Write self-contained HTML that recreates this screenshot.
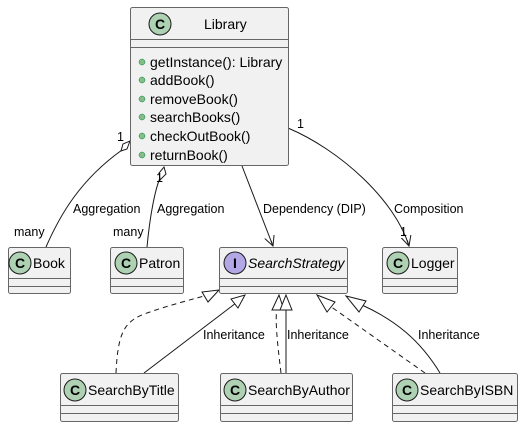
<!DOCTYPE html>
<html><head><meta charset="utf-8"><style>
html,body{margin:0;padding:0;background:#fff;}
svg{display:block;}
text{font-family:"Liberation Sans",sans-serif;fill:#000;}
</style></head><body>
<svg width="523" height="427" viewBox="0 0 523 427" xmlns="http://www.w3.org/2000/svg">
<defs>
<marker id="arr" markerWidth="12" markerHeight="12" refX="10" refY="6" orient="auto" markerUnits="userSpaceOnUse">
<path d="M0,1 L10,6 L0,11 M10,6 L4,6" fill="none" stroke="#181818" stroke-width="1"/>
</marker>
</defs>
<g stroke="#181818" stroke-width="1" fill="none">
<path d="M46,247 C60,215 80,180 122,150"/>
<polygon points="130,141 127,149 121,151 123,144" fill="#fff"/>
<path d="M147,247 C150,215 155,190 160,178"/>
<polygon points="164,167 166,174 160,180 159,173" fill="#fff"/>
<path d="M242,166 L273,246" marker-end="url(#arr)"/>
<path d="M288,128 C340,150 395,200 409,246" marker-end="url(#arr)"/>
<path d="M116,373 C118,330 125,320 150,312 C170,305 190,300 204,296" stroke-dasharray="5,4"/>
<polygon points="219,290 208,302 202,292" fill="#fff"/>
<path d="M144,373 L236,303"/>
<polygon points="245,295 238,308 231,299" fill="#fff"/>
<path d="M281,373 C277,340 275,320 277,308" stroke-dasharray="5,4"/>
<polygon points="279,295 284,310 272,310" fill="#fff"/>
<path d="M286,373 L286,310"/>
<polygon points="286,295 292,310 280,310" fill="#fff"/>
<path d="M425,373 L330,306" stroke-dasharray="5,4"/>
<polygon points="317,295 335,302 327,312" fill="#fff"/>
<path d="M440,373 C420,340 395,320 362,305"/>
<polygon points="346,296 366,301 359,312" fill="#fff"/>
</g>
<g font-size="12.5">
<text x="117" y="141">1</text>
<text x="14" y="236">many</text>
<text x="73" y="213">Aggregation</text>
<text x="156" y="182">1</text>
<text x="113" y="236">many</text>
<text x="157" y="213">Aggregation</text>
<text x="263" y="213">Dependency (DIP)</text>
<text x="297" y="128">1</text>
<text x="394" y="213">Composition</text>
<text x="400" y="236">1</text>
<text x="203" y="339">Inheritance</text>
<text x="287" y="339">Inheritance</text>
<text x="418" y="339">Inheritance</text>
</g>
<g stroke="#666" stroke-width="1" fill="#F1F1F1">
<rect x="130.5" y="7.5" width="158" height="158" rx="2"/>
<rect x="8.5" y="247.5" width="62" height="46" rx="2"/>
<rect x="110.5" y="247.5" width="73" height="46" rx="2"/>
<rect x="219.5" y="247.5" width="128" height="46" rx="2"/>
<rect x="382.5" y="247.5" width="75" height="46" rx="2"/>
<rect x="60.5" y="373.5" width="118" height="48" rx="2"/>
<rect x="220.5" y="373.5" width="132" height="48" rx="2"/>
<rect x="392.5" y="373.5" width="125" height="48" rx="2"/>
</g>
<g stroke="#666" stroke-width="1">
<path d="M130.5,39.5H288.5M130.5,47.5H288.5"/>
<path d="M8.5,278.5H70.5M8.5,286.5H70.5"/>
<path d="M110.5,278.5H183.5M110.5,286.5H183.5"/>
<path d="M219.5,278.5H347.5M219.5,286.5H347.5"/>
<path d="M382.5,278.5H457.5M382.5,286.5H457.5"/>
<path d="M60.5,405.5H178.5M60.5,413.5H178.5"/>
<path d="M220.5,405.5H352.5M220.5,413.5H352.5"/>
<path d="M392.5,405.5H517.5M392.5,413.5H517.5"/>
</g>
<g stroke="#181818" stroke-width="1" fill="#ADD1B2">
<circle cx="160" cy="24" r="11"/>
<circle cx="20" cy="263" r="11"/>
<circle cx="126" cy="263" r="11"/>
<circle cx="398" cy="263" r="11"/>
<circle cx="75" cy="390" r="11"/>
<circle cx="235" cy="390" r="11"/>
<circle cx="407" cy="390" r="11"/>
<circle cx="235" cy="263" r="11" fill="#B4A7E5"/>
</g>
<g font-size="14" font-weight="bold" text-anchor="middle">
<text x="160" y="29">C</text>
<text x="20" y="268">C</text>
<text x="126" y="268">C</text>
<text x="398" y="268">C</text>
<text x="75" y="395">C</text>
<text x="235" y="395">C</text>
<text x="407" y="395">C</text>
<text x="235" y="268" font-family="Liberation Mono,monospace">I</text>
</g>
<g font-size="14">
<text x="204" y="29">Library</text>
<text x="33" y="268">Book</text>
<text x="139" y="268">Patron</text>
<text x="248" y="268" font-style="italic">SearchStrategy</text>
<text x="411" y="268">Logger</text>
<text x="88" y="395">SearchByTitle</text>
<text x="248" y="395">SearchByAuthor</text>
<text x="420" y="395">SearchByISBN</text>
</g>
<g fill="#84BE84" stroke="#038048" stroke-width="0.5">
<circle cx="142" cy="62" r="3"/>
<circle cx="142" cy="80" r="3"/>
<circle cx="142" cy="99" r="3"/>
<circle cx="142" cy="117" r="3"/>
<circle cx="142" cy="136" r="3"/>
<circle cx="142" cy="155" r="3"/>
</g>
<g font-size="14">
<text x="150" y="67">getInstance(): Library</text>
<text x="150" y="85">addBook()</text>
<text x="150" y="104">removeBook()</text>
<text x="150" y="122">searchBooks()</text>
<text x="150" y="141">checkOutBook()</text>
<text x="150" y="160">returnBook()</text>
</g>
</svg>
</body></html>
